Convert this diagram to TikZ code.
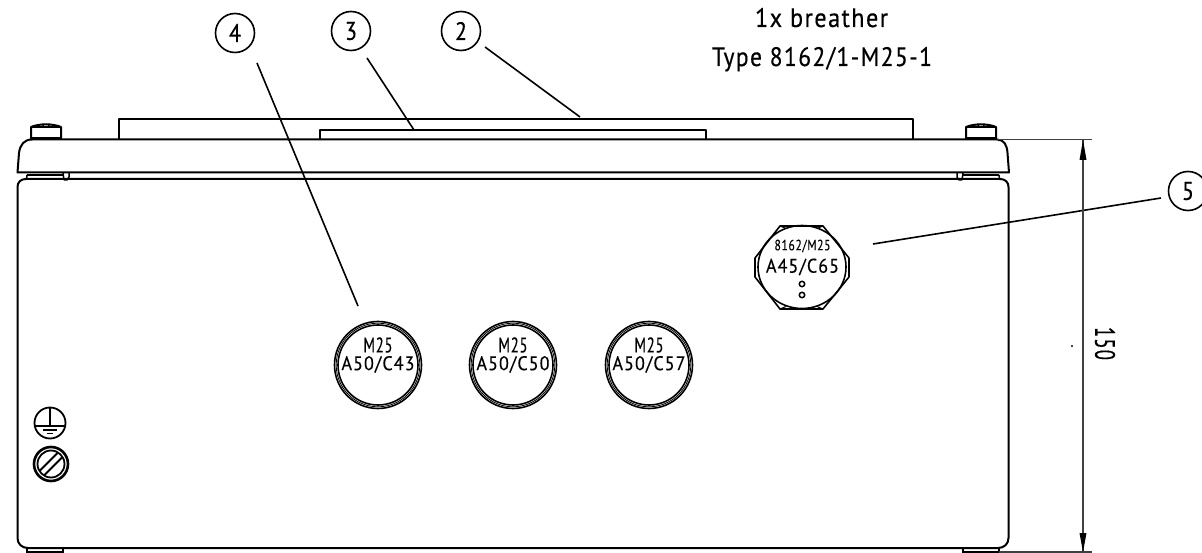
\documentclass[tikz,border=0pt]{standalone}
\usepackage{fontspec}
\setmainfont{Liberation Sans}
\newfontfamily\isofont[LetterSpace=6]{PT Sans}
\newcommand{\fitted}[3]{\resizebox{#1pt}{#2pt}{\isofont\addfontfeature{FakeBold=0.4}#3}}
\tikzset{
 x=1pt,y=-1pt,
 body/.style={line width=2pt,black,line join=round},
 thin part/.style={line width=1.5pt,black},
 leader/.style={line width=1.6pt,black},
 dimline/.style={line width=1.2pt,black!75},
 balloon/.style={circle,draw,line width=1.6pt,minimum size=39pt,inner sep=0pt},
 glabel/.style={inner sep=0pt},
 note/.style={inner sep=0pt},
}
\newcommand{\gland}[1]{%
 \draw[line width=1.6pt] (#1,365) circle[radius=43.5];
 \draw[line width=1.6pt] (#1,365) circle[radius=40];
 \draw[line width=.8pt] (#1,365) circle[radius=41.8];
}
\newcommand{\screwhead}[1]{%
 \draw[body,fill=white] (#1,139) -- (#1,127) .. controls (#1+8,123.5) and (#1+22,123.5) .. (#1+30,127) -- (#1+30,139);
 \draw[thin part] (#1,127) -- (#1+30,127);
 \draw[thin part] (#1+11,124) -- (#1+13,125.5) (#1+19,124) -- (#1+17,125.5);
 \draw[line width=2.6pt] (#1,138.5) -- (#1+30,138.5);
}
\begin{document}
\begin{tikzpicture}
\useasboundingbox (0,0) rectangle (1202,553);
% cover / lid
\draw[body] (119,139.5) -- (119,119) -- (913,119) -- (913,139.5);
\draw[body] (320,139.5) -- (320,130) -- (706,130) -- (706,139.5);
\screwhead{31}\screwhead{966}
\draw[body] (17.5,172.5) -- (19,153) .. controls (20,145) and (24,139.5) .. (32,139.5) -- (997,139.5) .. controls (1004,139.5) and (1007,145) .. (1007.5,153) -- (1009,172.5) -- cycle;
% hinges and feet
\draw[thin part] (27,175) -- (26.5,179) (63,173) -- (64,180) (69,173) -- (69,177) -- (67,180) -- (64,180);
\draw[thin part] (27,175) -- (63,175);
\draw[thin part] (999,175) -- (999.5,179) (963,173) -- (962,180) (957,173) -- (957,177) -- (959,180) -- (962,180);
\draw[thin part] (963,175) -- (999,175);
% housing
\draw[body] (17.5,187) .. controls (17.5,182) and (21,179) .. (26,179) -- (1000,179) .. controls (1005,179) and (1008.5,182) .. (1008.5,187) -- (1008.5,538) .. controls (1008.5,544) and (1004,548) .. (998,548) -- (28,548) .. controls (22,548) and (17.5,544) .. (17.5,538) -- cycle;
\draw[thin part] (27,548) -- (27,552) -- (63,552) -- (63,548);
\draw[thin part] (963,548) -- (963,552) -- (999,552) -- (999,548);
% glands
\gland{378}\gland{513}\gland{649}
\node[glabel] (g1a) at (378,345) {\fitted{29}{15}{M25}};
\node[glabel] (g1b) at (378,364.5) {\fitted{73}{14}{A50/C43}};
\node[glabel] (g2a) at (513,345) {\fitted{29}{15}{M25}};
\node[glabel] (g2b) at (513,364.5) {\fitted{73}{14}{A50/C50}};
\node[glabel] (g3a) at (649,345) {\fitted{29}{15}{M25}};
\node[glabel] (g3b) at (649,364.5) {\fitted{73}{14}{A50/C57}};
% breather
\draw[line width=1.6pt,line join=round] (780,226) -- (823,226) -- (849,258) -- (849,277) -- (823,309) -- (780,309) -- (755,277) -- (755,258) -- cycle;
\draw[line width=1.6pt] (802,267) circle[x radius=44,y radius=41.5];
\draw[line width=1pt] (780,226) -- (786,228.5) (823,226) -- (817,228.5) (780,309) -- (786,306.5) (823,309) -- (817,306.5);
\node[inner sep=0pt] (b1) at (802.5,246) {\fitted{56}{10.5}{8162/M25}};
\node[glabel] (b2) at (802.5,267) {\fitted{73}{14}{A45/C65}};
\draw[thin part] (802,284) circle[radius=2.7] (802,295) circle[radius=2.7];
% earth symbol and screw
\draw[line width=1.8pt] (50,423) circle[radius=15.5];
\draw[thin part] (35,426) -- (65,426) (50,408) -- (50,426) (43,430) -- (57,430) (47,433.5) -- (53,433.5);
\draw[line width=2.6pt] (51,464) circle[radius=17];
\draw[line width=1.8pt] (51,464) circle[radius=13.5];
\draw[line width=1.8pt] (39.5,471) -- (58,452.5) (44,475.5) -- (62.5,457);
% balloons
\node[balloon] (n4) at (235,33) {\fitted{12}{18}{4}};
\node[balloon] (n3) at (351,31) {\fitted{12}{18}{3}};
\node[balloon] (n2) at (461,31) {\fitted{12}{18}{2}};
\node[balloon] (n5) at (1188,191) {\fitted{12}{18}{5}};
\coordinate (p4) at (358,306);
\coordinate (p4s) at (257,63);
\coordinate (p3) at (414,130);
\coordinate (p3s) at (367,58);
\coordinate (p2) at (580,117);
\coordinate (p2s) at (485,47);
\coordinate (p5) at (873,244);
\coordinate (p5s) at (1161,198);
\draw[leader] (p4s) -- (p4);
\draw[leader] (p3s) -- (p3);
\draw[leader] (p2s) -- (p2);
\draw[leader] (p5s) -- (p5);
% texts
\node[note,anchor=base] (t1) at (821.5,27) {\fitted{133}{19}{1x breather}};
\node[note,anchor=base] (t2) at (822,66) {\fitted{220}{19}{Type 8162/1-M25-1}};
% dimension
\coordinate (d1) at (1083,139.5);
\coordinate (d2) at (1083,552);
\draw[dimline] (997,139.5) -- (1092,139.5);
\draw[dimline] (999,552) -- (1092,552);
\draw[dimline] (d1) -- (d2);
\fill[black] (1083,140) -- (1086.5,160) -- (1079.5,160) -- cycle;
\fill[black] (1083,552) -- (1086.5,533) -- (1079.5,533) -- cycle;
\node[note,rotate=-90] (dim) at (1105,343.5) {\fitted{33}{20}{150}};
\fill (1072,346) circle[radius=1.2];
\end{tikzpicture}
\end{document}
